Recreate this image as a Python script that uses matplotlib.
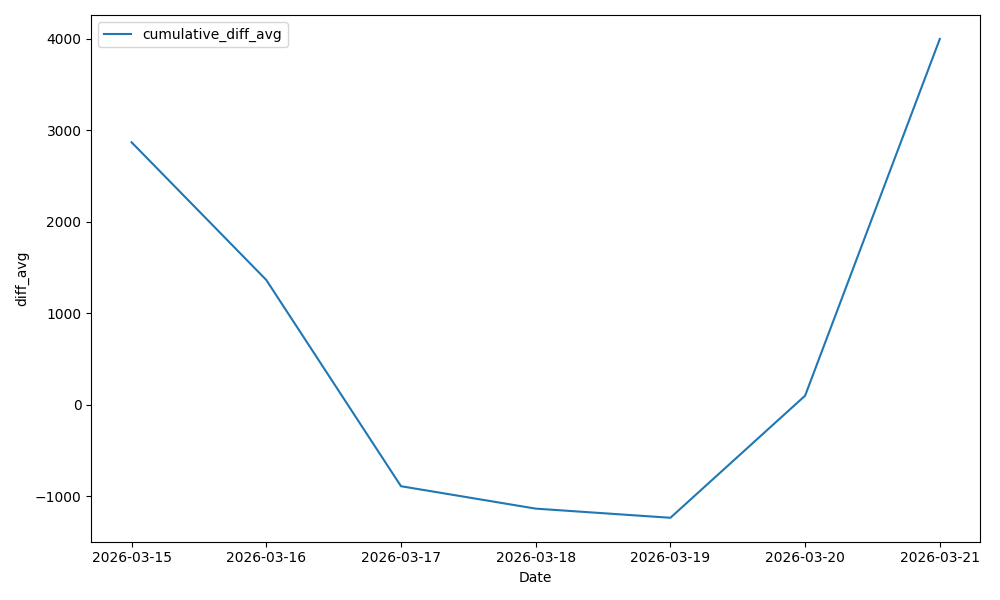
import matplotlib
matplotlib.use("Agg")
import matplotlib.pyplot as plt
import pandas as pd

dates = ["2026-03-15", "2026-03-16", "2026-03-17", "2026-03-18", "2026-03-19", "2026-03-20", "2026-03-21"]
cumulative_diff_avg = [2870, 1365, -890, -1135, -1235, 100, 4000]

x = pd.to_datetime(dates)
fig, ax = plt.subplots(figsize=(10, 6), dpi=100)
ax.plot(x, cumulative_diff_avg, label="cumulative_diff_avg", color="#1f77b4")
ax.set_xticks(x)
ax.set_xticklabels(dates)
ax.set_xlabel("Date")
ax.set_ylabel("diff_avg")
ax.legend(loc="upper left")
fig.tight_layout()
fig.savefig("out.png")
